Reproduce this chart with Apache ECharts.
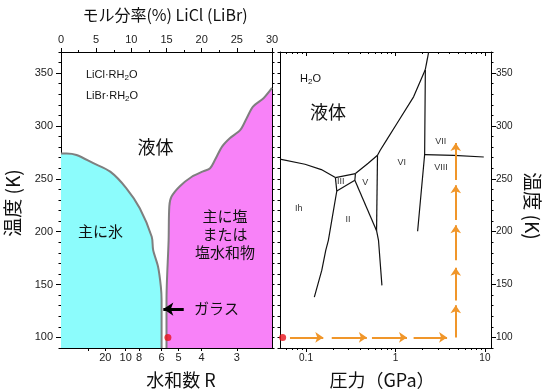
<!DOCTYPE html>
<html><head><meta charset="utf-8">
<script src="https://cdn.jsdelivr.net/npm/echarts@6/dist/echarts.min.js"></script>
<style>html,body{margin:0;padding:0;background:#fff}#c{width:545px;height:391px}</style>
</head><body><div id="c"></div>
<script>
// ================= DATA =================
// Left panel: LiCl mole fraction (%) vs temperature (K)
const iceBoundaryX  = [0, 0.8, 2.2, 4.6, 7.0, 9.3, 11.2, 12.9, 13.1, 13.8, 14.2, 14.3, 14.3];
const iceBoundaryT  = [274, 274, 272.6, 264.8, 256.8, 241.1, 222.2, 195.3, 182.7, 166.9, 147.9, 135.3, 90];
const saltBoundaryX = [15.0, 15.0, 15.3, 15.4, 15.7, 16.9, 18.6, 20.2, 21.2, 21.9, 22.9, 24.0, 25.5, 26.4, 27.3, 28.8, 30];
const saltBoundaryT = [90, 135, 192, 224, 233, 243, 252, 257, 260, 268, 280.5, 288.4, 296.3, 307.4, 318.4, 326.3, 336];
const glassPointX = [15.2];
const glassPointT = [100];
const glassArrowX = [17.45, 14.55];
const glassArrowT = [126.8, 126.8];
const molTickStep = 5;
const rLabels   = ['20', '10', '8', '6', '5', '4', '3'];
const rLabelPos = [6.3, 9.2, 11.1, 14.3, 16.7, 20, 25];
const rTickPos  = [3.9, 6.3, 9.2, 11.1, 14.3, 16.7, 20, 25];
const tempTicks = [100, 150, 200, 250, 300, 350];
const tempRange = [90, 370];

// Right panel: H2O phase diagram, pressure (GPa) vs temperature (K)
const pRange = [0.0512, 11.7];
const pLabels = ['0.1', '1', '10'];
const pLabelVals = [0.1, 1, 10];
const pMinorVals = [0.06, 0.07, 0.08, 0.09, 0.2, 0.3, 0.4, 0.5, 0.6, 0.7, 0.8, 0.9, 2, 3, 4, 5, 6, 7, 8, 9];

const ihLiquidP  = [0.0511, 0.0974, 0.1484, 0.2131];
const ihLiquidT  = [268.6, 263.8, 258.8, 251.2];
const iiiLiquidP = [0.2131, 0.357];
const iiiLiquidT = [251.2, 255.0];
const ihIiiP     = [0.2131, 0.2209];
const ihIiiT     = [251.2, 238.5];
const iiiIiP     = [0.2209, 0.3516];
const iiiIiT     = [238.5, 248.7];
const iiiVP      = [0.357, 0.3516];
const iiiVT      = [255.0, 248.7];
const ihIiP      = [0.2209, 0.1941, 0.1778, 0.1662, 0.150, 0.1239];
const ihIiT      = [238.5, 210.8, 191.9, 182.4, 163.4, 138.2];
const iiVP       = [0.3516, 0.615];
const iiVT       = [248.7, 201];
const vViP       = [0.6299, 0.615];
const vViT       = [272.3, 201];
const iiViP      = [0.615, 0.6463, 0.7059];
const iiViT      = [201, 191.9, 149.2];
const vLiquidP   = [0.357, 0.4956, 0.6299];
const vLiquidT   = [255.0, 264.8, 272.3];
const viLiquidP  = [0.6299, 0.6756, 0.7949, 1.039, 1.595, 2.159];
const viLiquidT  = [272.3, 277.1, 286.6, 302.4, 327.6, 353.5];
const viiLiquidP = [2.159, 2.35];
const viiLiquidT = [353.5, 370];
const viViiP     = [2.159, 2.12, 1.769];
const viViiT     = [353.5, 273.0, 200.4];
const viiViiiP   = [2.12, 4.48, 9.72];
const viiViiiT   = [273.0, 272.3, 270.7];

const pathStartP = [0.0548];
const pathStartT = [100];
const hArrowP = [[0.0662, 0.156], [0.194, 0.479], [0.546, 1.346], [1.596, 3.776]];
const hArrowT = 100;
const vArrowP = 4.72;
const vArrowT = [[100, 130.5], [135, 166], [173, 206], [211, 244], [249, 284]];

// ================= CHART =================
const lg = Math.log10;
const zip = (a, b) => a.map((v, i) => [v, b[i]]);
const zipLog = (p, t) => p.map((v, i) => [lg(v), t[i]]);
const nearestLabel = (vals, labels) => v => {
  let bi = 0, bd = Infinity;
  vals.forEach((x, i) => { const d = Math.abs(x - v); if (d < bd) { bd = d; bi = i; } });
  return labels[bi];
};

const numFont = 'Liberation Sans, Arial, sans-serif';
const cjkFont = '"Noto Sans CJK JP", "Noto Sans", sans-serif';
const black = '#000';
const axLine = { show: true, onZero: false, lineStyle: { color: black, width: 1 } };
const noLine = { show: false, onZero: false };
const noLabel = { show: false };
const noSplit = { show: false };

const pMinL = lg(pRange[0]), pMaxL = lg(pRange[1]);
const pLabelLog = pLabelVals.map(lg);
const pMinorLog = pMinorVals.map(lg);

const phaseLines = [
  [ihLiquidP, ihLiquidT], [iiiLiquidP, iiiLiquidT], [ihIiiP, ihIiiT], [iiiIiP, iiiIiT],
  [iiiVP, iiiVT], [ihIiP, ihIiT], [iiVP, iiVT], [vViP, vViT], [iiViP, iiViT],
  [vLiquidP, vLiquidT], [viLiquidP, viLiquidT], [viiLiquidP, viiLiquidT],
  [viViiP, viViiT], [viiViiiP, viiViiiT]
];

const orange = '#f0962a';
const arrowData = [];
hArrowP.forEach(s => arrowData.push({ coords: [[lg(s[0]), hArrowT], [lg(s[1]), hArrowT]] }));
vArrowT.forEach(s => arrowData.push({ coords: [[lg(vArrowP), s[0]], [lg(vArrowP), s[1]]] }));

function rich(text, x, y, size) {
  return {
    type: 'text', x: x, y: y, z: 100,
    style: {
      text: text, fill: '#111', align: 'left', verticalAlign: 'middle',
      rich: {
        a: { fontSize: size, fontFamily: numFont, fill: '#111' },
        s: { fontSize: size - 3, fontFamily: numFont, fill: '#111', padding: [6, 0, 0, 0] }
      }
    }
  };
}
function txt(text, x, y, size, opts) {
  return Object.assign({
    type: 'text', x: x, y: y, z: 100,
    style: Object.assign({ text: text, fill: '#111', font: size + 'px ' + cjkFont, align: 'center', verticalAlign: 'middle' }, (opts || {}).style || {})
  }, (opts || {}).el || {});
}
function roman(text, x, y) {
  return { type: 'text', x: x, y: y, z: 100, style: { text: text, fill: '#333', font: '9px ' + numFont, align: 'center', verticalAlign: 'middle' } };
}

const chart = echarts.init(document.getElementById('c'), null, { renderer: 'canvas' });
const option = {
  animation: false,
  backgroundColor: '#fff',
  grid: [
    { left: 61, top: 52, width: 211, height: 296 },
    { left: 280, top: 52, width: 211, height: 296 }
  ],
  xAxis: [
    { gridIndex: 0, type: 'value', position: 'top', min: 0, max: 30, interval: molTickStep,
      axisLine: axLine, splitLine: noSplit,
      axisTick: { show: true, length: 4, lineStyle: { color: black } },
      minorTick: { show: true, splitNumber: 2, length: 2, lineStyle: { color: black } },
      axisLabel: { fontFamily: numFont, fontSize: 11, color: '#222', margin: 7 } },
    { gridIndex: 0, type: 'value', position: 'bottom', min: 0, max: 30,
      axisLine: axLine, splitLine: noSplit,
      axisTick: { show: true, length: 3, customValues: rTickPos, lineStyle: { color: black } },
      axisLabel: { fontFamily: numFont, fontSize: 11, color: '#222', margin: 4, customValues: rLabelPos,
        formatter: nearestLabel(rLabelPos, rLabels) } },
    { gridIndex: 1, type: 'value', position: 'bottom', min: pMinL, max: pMaxL,
      axisLine: axLine, splitLine: noSplit,
      axisTick: { show: true, length: 4, customValues: pLabelLog, lineStyle: { color: black } },
      axisLabel: { fontFamily: numFont, fontSize: 10, color: '#222', margin: 5, customValues: pLabelLog,
        formatter: nearestLabel(pLabelLog, pLabels) } },
    { gridIndex: 1, type: 'value', position: 'bottom', min: pMinL, max: pMaxL,
      axisLine: noLine, splitLine: noSplit, axisLabel: noLabel,
      axisTick: { show: true, length: 2, customValues: pMinorLog, lineStyle: { color: black } } },
    { gridIndex: 1, type: 'value', position: 'top', min: pMinL, max: pMaxL,
      axisLine: axLine, splitLine: noSplit, axisLabel: noLabel,
      axisTick: { show: true, inside: true, length: 4, customValues: pLabelLog, lineStyle: { color: black } } },
    { gridIndex: 1, type: 'value', position: 'top', min: pMinL, max: pMaxL,
      axisLine: noLine, splitLine: noSplit, axisLabel: noLabel,
      axisTick: { show: true, inside: true, length: 2, customValues: pMinorLog, lineStyle: { color: black } } }
  ],
  yAxis: [
    { gridIndex: 0, type: 'value', position: 'left', min: tempRange[0], max: tempRange[1],
      axisLine: axLine, splitLine: noSplit,
      axisTick: { show: true, length: 5, customValues: tempTicks, lineStyle: { color: black } },
      axisLabel: { fontFamily: numFont, fontSize: 11, color: '#222', margin: 8, customValues: tempTicks } },
    { gridIndex: 0, type: 'value', position: 'left', min: tempRange[0], max: tempRange[1], interval: 10,
      axisLine: noLine, splitLine: noSplit, axisLabel: noLabel,
      axisTick: { show: true, length: 2.5, lineStyle: { color: black } } },
    { gridIndex: 0, type: 'value', position: 'right', min: tempRange[0], max: tempRange[1], interval: 10,
      axisLine: axLine, splitLine: noSplit, axisLabel: noLabel,
      axisTick: { show: true, length: 2.5, lineStyle: { color: black } } },
    { gridIndex: 1, type: 'value', position: 'left', min: tempRange[0], max: tempRange[1], interval: 10,
      axisLine: axLine, splitLine: noSplit, axisLabel: noLabel,
      axisTick: { show: true, length: 2.5, lineStyle: { color: black } } },
    { gridIndex: 1, type: 'value', position: 'right', min: tempRange[0], max: tempRange[1],
      axisLine: axLine, splitLine: noSplit,
      axisTick: { show: true, length: 5, customValues: tempTicks, lineStyle: { color: black } },
      axisLabel: { fontFamily: numFont, fontSize: 10, color: '#222', margin: 5, customValues: tempTicks } },
    { gridIndex: 1, type: 'value', position: 'right', min: tempRange[0], max: tempRange[1], interval: 10,
      axisLine: noLine, splitLine: noSplit, axisLabel: noLabel,
      axisTick: { show: true, length: 2.5, lineStyle: { color: black } } }
  ],
  series: [
    { type: 'line', xAxisIndex: 0, yAxisIndex: 0, data: zip(iceBoundaryX, iceBoundaryT),
      symbol: 'none', smooth: 0.3, lineStyle: { color: '#7f7f7f', width: 2 },
      areaStyle: { color: '#8cfcfc', opacity: 1, origin: 'start' }, z: 1 },
    { type: 'line', xAxisIndex: 0, yAxisIndex: 0, data: zip(saltBoundaryX, saltBoundaryT),
      symbol: 'none', smooth: 0.3, lineStyle: { color: '#7f7f7f', width: 2 },
      areaStyle: { color: '#f882f8', opacity: 1, origin: 'start' }, z: 1 },
    { type: 'scatter', xAxisIndex: 0, yAxisIndex: 0, data: zip(glassPointX, glassPointT),
      symbolSize: 7, itemStyle: { color: '#e8141c' }, z: 5 },
    { type: 'lines', coordinateSystem: 'cartesian2d', xAxisIndex: 0, yAxisIndex: 0,
      data: [{ coords: zip(glassArrowX, glassArrowT) }],
      symbol: ['none', 'arrow'], symbolSize: 10,
      lineStyle: { color: '#000', width: 3, opacity: 1, curveness: 0 }, z: 5 },
    ...phaseLines.map(l => ({
      type: 'line', xAxisIndex: 2, yAxisIndex: 4, data: zipLog(l[0], l[1]),
      symbol: 'none', lineStyle: { color: '#111', width: 1.2 }, z: 3
    })),
    { type: 'lines', coordinateSystem: 'cartesian2d', xAxisIndex: 2, yAxisIndex: 4,
      data: arrowData, symbol: ['none', 'arrow'], symbolSize: 8,
      lineStyle: { color: orange, width: 2, opacity: 1, curveness: 0 }, z: 4 },
    { type: 'scatter', xAxisIndex: 2, yAxisIndex: 4, data: zipLog(pathStartP, pathStartT),
      symbolSize: 7, clip: false, itemStyle: { color: '#e8141c' }, z: 5 }
  ],
  graphic: [
    txt('モル分率(%) LiCl (LiBr)', 165, 15, 16),
    rich('{a|LiCl·RH}{s|2}{a|O}', 86, 75, 11),
    rich('{a|LiBr·RH}{s|2}{a|O}', 86, 96, 11),
    txt('液体', 155.5, 147.5, 18),
    txt('主に氷', 100.5, 231, 15),
    txt('主に塩\nまたは\n塩水和物', 225, 234.5, 15, { style: { lineHeight: 18 } }),
    txt('ガラス', 194, 308, 15, { style: { align: 'left' } }),
    txt('水和数 R', 181, 380, 18),
    txt('圧力（GPa）', 382, 380, 18),
    txt('温度 (K)', 13, 203, 19, { el: { rotation: Math.PI / 2 } }),
    txt('温度 (K)', 532, 206, 19, { el: { rotation: -Math.PI / 2 } }),
    rich('{a|H}{s|2}{a|O}', 300, 79, 11),
    txt('液体', 328, 112, 18),
    roman('VII', 440.7, 141.7),
    roman('VIII', 441, 167.7),
    roman('VI', 401.7, 162.7),
    roman('V', 365.3, 182.7),
    roman('III', 340.7, 181.7),
    roman('Ih', 298.7, 208.3),
    roman('II', 348, 220)
  ]
};
chart.setOption(option);
</script>
</body></html>
